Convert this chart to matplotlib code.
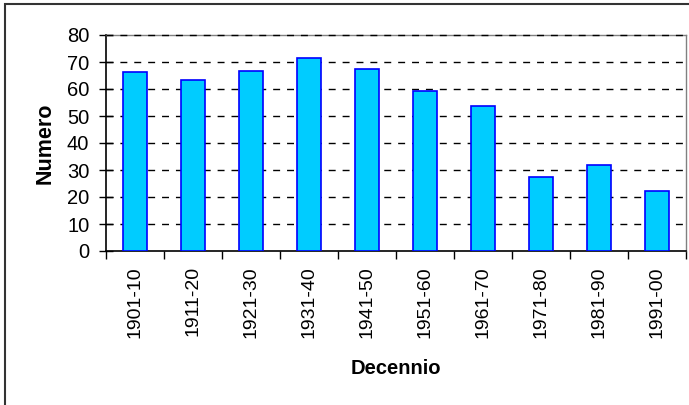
import matplotlib
matplotlib.use('Agg')
import matplotlib.pyplot as plt
from matplotlib.patches import Rectangle

decenni = ['1901-10', '1911-20', '1921-30', '1931-40', '1941-50',
           '1951-60', '1961-70', '1971-80', '1981-90', '1991-00']
numero = [66.2, 63.3, 66.8, 71.4, 67.3, 59.4, 53.6, 27.4, 32.0, 22.2]

plt.rcParams['font.family'] = ['Liberation Sans', 'DejaVu Sans']

fig = plt.figure(figsize=(6.89, 4.05), dpi=100)
ax = fig.add_axes([106/689, 1-251/405, 580/689, 216/405])

# bordo esterno del grafico (solo sinistra e sopra, come nel ritaglio)
fig.patches.append(Rectangle((5/689, -0.1), 2, 1.1-4/405, transform=fig.transFigure,
                             fill=False, edgecolor='#333333', linewidth=1.5))

x = range(len(decenni))
ax.bar(x, numero, width=0.43, color='#00CCFF', edgecolor='#0000FF',
       linewidth=1.2, zorder=3)

ax.set_xlim(-0.5, len(decenni)-0.5)
ax.set_ylim(0, 80)
ax.set_yticks(range(0, 81, 10))
ax.set_xticks([i-0.5 for i in range(len(decenni)+1)], minor=False)
ax.set_xticklabels([])
ax.set_xticks(list(x), minor=True)
ax.set_xticklabels(decenni, minor=True, rotation=90, fontsize=14)
ax.tick_params(axis='x', which='minor', length=0, pad=11)
ax.tick_params(axis='x', which='major', direction='out', length=6, width=1)
ax.tick_params(axis='y', direction='inout', length=10, width=1, labelsize=14.5, pad=7)

for s in ['top', 'right']:
    ax.spines[s].set_color('#808080')
    ax.spines[s].set_linewidth(1)
for s in ['left', 'bottom']:
    ax.spines[s].set_color('black')
    ax.spines[s].set_linewidth(1.2)

# griglia tratteggiata (quella a 80 sopra il bordo grigio)
for v in range(10, 81, 10):
    ax.axhline(v, color='black', linestyle=(0, (5, 5)), linewidth=1,
               zorder=2.6 if v == 80 else 1, clip_on=False)

ax.set_ylabel('Numero', fontsize=15.5, fontweight='bold', labelpad=8)
ax.set_xlabel('Decennio', fontsize=14.5, fontweight='bold', labelpad=15)

fig.savefig('out.png', dpi=100)
